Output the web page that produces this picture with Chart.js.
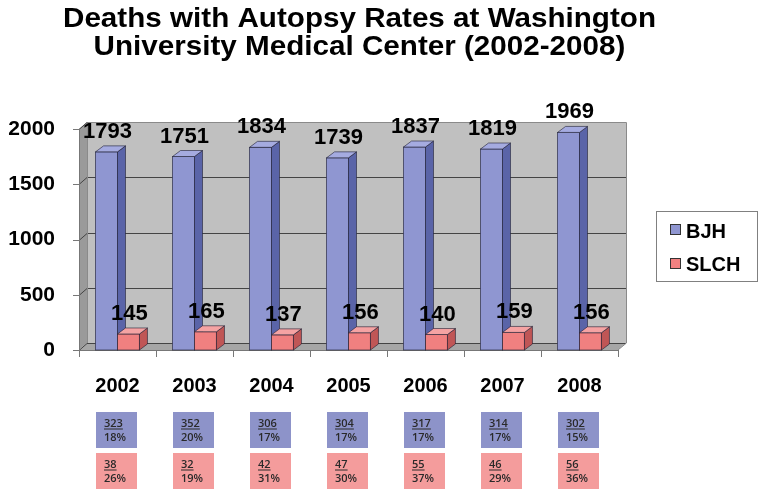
<!DOCTYPE html>
<html>
<head>
<meta charset="utf-8">
<script src="https://cdn.jsdelivr.net/npm/chart.js@4.4.1/dist/chart.umd.min.js"></script>
<style>
  html, body { margin: 0; padding: 0; background: #ffffff; }
  #wrap { width: 763px; height: 495px; position: relative; }
</style>
</head>
<body>
<div id="wrap"><canvas id="c" width="763" height="495"></canvas></div>
<script>
// ---- data ----
const years = ["2002", "2003", "2004", "2005", "2006", "2007", "2008"];
const bjhDeaths = [1793, 1751, 1834, 1739, 1837, 1819, 1969];
const slchDeaths = [145, 165, 137, 156, 140, 159, 156];
const bjhAutopsies = [323, 352, 306, 304, 317, 314, 302];
const bjhRates = ["18%", "20%", "17%", "17%", "17%", "17%", "15%"];
const slchAutopsies = [38, 32, 42, 47, 55, 46, 56];
const slchRates = ["26%", "19%", "31%", "30%", "37%", "29%", "36%"];
const yTicks = [0, 500, 1000, 1500, 2000];
const titleLines = ["Deaths with Autopsy Rates at Washington", "University Medical Center (2002-2008)"];
const seriesNames = ["BJH", "SLCH"];

// ---- styles ----
const FONT = "'Liberation Sans', Arial, sans-serif";
const faces = [
  { front: "#8f96d1", side: "#5a64a8", top: "#a5abe0", box: "#8d93c9" },
  { front: "#f08080", side: "#c05656", top: "#f5a3a3", box: "#f49c9c" }
];
const DX = 8, DY = -7;   // wall depth
const BDX = 8, BDY = -6; // bar depth

const threeD = {
  id: "threeD",
  beforeDatasetsDraw(chart) {
    const ctx = chart.ctx, ca = chart.chartArea, y = chart.scales.y;
    const L = ca.left, R = ca.right, T = y.getPixelForValue(2000), B = y.getPixelForValue(0);
    ctx.save();
    ctx.fillStyle = "#9a9a9a";
    ctx.beginPath();
    ctx.moveTo(L, B); ctx.lineTo(L, T); ctx.lineTo(L + DX, T + DY); ctx.lineTo(L + DX, B + DY); ctx.closePath();
    ctx.fill();
    ctx.fillStyle = "#c0c0c0";
    ctx.fillRect(L + DX, T + DY, R - L, B - T);
    ctx.fillStyle = "#a6a6a6";
    ctx.beginPath();
    ctx.moveTo(L, B); ctx.lineTo(R, B); ctx.lineTo(R + DX, B + DY); ctx.lineTo(L + DX, B + DY); ctx.closePath();
    ctx.fill();
    ctx.strokeStyle = "#444";
    ctx.lineWidth = 1;
    yTicks.forEach(v => {
      const py = Math.round(y.getPixelForValue(v) + DY) + 0.5;
      ctx.beginPath();
      ctx.moveTo(L, py - DY); ctx.lineTo(L + DX, py); ctx.lineTo(R + DX, py);
      ctx.stroke();
    });
    ctx.strokeStyle = "#8a8a8a";
    ctx.beginPath();
    ctx.moveTo(L + DX + 0.5, B + DY); ctx.lineTo(L + DX + 0.5, T + DY + 0.5); ctx.lineTo(R + DX + 0.5, T + DY + 0.5); ctx.lineTo(R + DX + 0.5, B + DY);
    ctx.lineTo(R, B);
    ctx.stroke();
    ctx.strokeStyle = "#777";
    ctx.beginPath();
    ctx.moveTo(L + 0.5, T); ctx.lineTo(L + 0.5, B + 0.5); ctx.lineTo(R, B + 0.5);
    ctx.stroke();
    yTicks.forEach(v => {
      const py = Math.round(y.getPixelForValue(v)) + 0.5;
      ctx.beginPath(); ctx.moveTo(L - 6, py); ctx.lineTo(L, py); ctx.stroke();
    });
    const n = years.length, w = (R - L) / n;
    for (let i = 0; i <= n; i++) {
      const px = Math.round(L + i * w) + 0.5;
      ctx.beginPath(); ctx.moveTo(px, B); ctx.lineTo(px, B + 7); ctx.stroke();
    }
    ctx.restore();
  },
  afterDatasetsDraw(chart) {
    const ctx = chart.ctx;
    ctx.save();
    ctx.strokeStyle = "rgba(30,30,50,0.75)";
    ctx.lineWidth = 0.8;
    chart.data.datasets.forEach((ds, di) => {
      const meta = chart.getDatasetMeta(di);
      const f = faces[di];
      meta.data.forEach(el => {
        const x0 = el.x - el.width / 2, x1 = el.x + el.width / 2, yt = el.y, yb = el.base;
        ctx.fillStyle = f.front;
        ctx.fillRect(x0, yt, x1 - x0, yb - yt);
        ctx.strokeRect(x0, yt, x1 - x0, yb - yt);
        ctx.fillStyle = f.side;
        ctx.beginPath();
        ctx.moveTo(x1, yb); ctx.lineTo(x1, yt); ctx.lineTo(x1 + BDX, yt + BDY); ctx.lineTo(x1 + BDX, yb + BDY); ctx.closePath();
        ctx.fill(); ctx.stroke();
        ctx.fillStyle = f.top;
        ctx.beginPath();
        ctx.moveTo(x0, yt); ctx.lineTo(x1, yt); ctx.lineTo(x1 + BDX, yt + BDY); ctx.lineTo(x0 + BDX, yt + BDY); ctx.closePath();
        ctx.fill(); ctx.stroke();
      });
    });
    ctx.fillStyle = "#000";
    ctx.font = "bold 22px " + FONT;
    ctx.textAlign = "center";
    ctx.textBaseline = "middle";
    chart.data.datasets.forEach((ds, di) => {
      const meta = chart.getDatasetMeta(di);
      meta.data.forEach((el, i) => {
        ctx.fillText(String(ds.data[i]), el.x + 1, el.y - 20);
      });
    });
    ctx.restore();
  },
  afterDraw(chart) {
    const ctx = chart.ctx, x = chart.scales.x;
    ctx.save();
    ctx.fillStyle = "#000";
    ctx.font = "bold 27px " + FONT;
    ctx.textAlign = "center";
    ctx.textBaseline = "alphabetic";
    const sx = 593 / ctx.measureText(titleLines[0]).width;
    ctx.save();
    ctx.translate(359.5, 0);
    ctx.scale(sx, 1);
    ctx.fillText(titleLines[0], 0, 27);
    ctx.fillText(titleLines[1], 0, 55);
    ctx.restore();

    ctx.strokeStyle = "#808080";
    ctx.lineWidth = 1;
    ctx.strokeRect(656.5, 211.5, 101, 70);
    ctx.font = "bold 20px " + FONT;
    ctx.textAlign = "left";
    ctx.textBaseline = "alphabetic";
    const legY = [224, 258], legBase = [238, 271];
    seriesNames.forEach((name, i) => {
      ctx.fillStyle = faces[i].front;
      ctx.fillRect(670, legY[i], 11, 11);
      ctx.strokeStyle = "#333";
      ctx.strokeRect(670.5, legY[i] + 0.5, 10, 10);
      ctx.fillStyle = "#000";
      ctx.fillText(name, 686, legBase[i]);
    });

    const rows = [
      { top: 412, nums: bjhAutopsies, pcts: bjhRates, color: faces[0].box },
      { top: 453, nums: slchAutopsies, pcts: slchRates, color: faces[1].box }
    ];
    ctx.font = "600 11px 'Open Sans', sans-serif";
    rows.forEach(r => {
      years.forEach((yr, i) => {
        const cx = x.getPixelForValue(i) - 1;
        const bx = Math.round(cx - 20.5);
        ctx.fillStyle = r.color;
        ctx.fillRect(bx, r.top, 41, 36);
        ctx.fillStyle = "#2a2a2a";
        const t = String(r.nums[i]);
        ctx.fillText(t, bx + 8, r.top + 15);
        const tw = ctx.measureText(t).width;
        ctx.fillRect(bx + 8, r.top + 16.5, tw, 1);
        ctx.fillText(r.pcts[i], bx + 8, r.top + 29);
      });
    });
    ctx.restore();
  }
};

new Chart(document.getElementById("c"), {
  type: "bar",
  data: {
    labels: years,
    datasets: [
      { label: seriesNames[0], data: bjhDeaths, backgroundColor: faces[0].front, categoryPercentage: 0.57, barPercentage: 1 },
      { label: seriesNames[1], data: slchDeaths, backgroundColor: faces[1].front, categoryPercentage: 0.57, barPercentage: 1 }
    ]
  },
  options: {
    responsive: false,
    animation: false,
    devicePixelRatio: 1,
    layout: { padding: { top: 129, right: 145, left: 0, bottom: 0 } },
    plugins: { legend: { display: false }, title: { display: false }, tooltip: { enabled: false } },
    scales: {
      y: {
        min: 0, max: 2000,
        afterFit(s) { s.width = 79; },
        afterBuildTicks(s) { s.ticks = yTicks.map(v => ({ value: v })); },
        ticks: { color: "#000", font: { family: FONT, size: 21, weight: "bold" }, padding: 24, callback: v => String(v) },
        grid: { display: false, drawTicks: false },
        border: { display: false }
      },
      x: {
        afterFit(s) { s.height = 145; },
        ticks: { color: "#000", font: { family: FONT, size: 20, weight: "bold" }, padding: 24 },
        grid: { display: false, drawTicks: false },
        border: { display: false }
      }
    }
  },
  plugins: [threeD]
});
</script>
</body>
</html>
